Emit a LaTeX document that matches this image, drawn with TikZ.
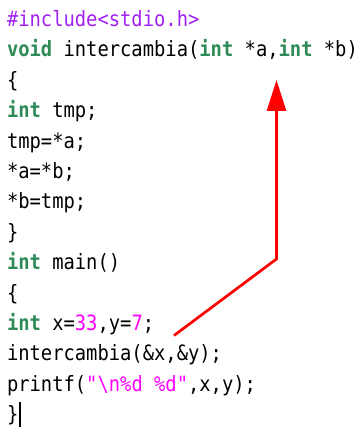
\documentclass[tikz,border=0pt]{standalone}
\usepackage{fontspec}
\setmonofont{DejaVu Sans Mono}
\usetikzlibrary{arrows.meta}
\definecolor{kwgreen}{RGB}{46,139,87}
\definecolor{ppurple}{RGB}{160,32,240}
\definecolor{nmag}{RGB}{255,0,255}
\definecolor{arrred}{RGB}{255,0,0}
\newcommand\kwd[1]{\textcolor{kwgreen}{\bfseries #1}}
\newcommand\lit[1]{\textcolor{nmag}{#1}}
\newcommand\tallline[1]{\scalebox{1}[1.12]{#1}}
\begin{document}
\begin{tikzpicture}[x=1pt,y=-1pt,
  codeline/.style={anchor=base west, inner sep=0pt, outer sep=0pt,
    font=\ttfamily\fontsize{18.8}{22}\selectfont},
  pointer/.style={draw=arrred, line width=2.7pt, -{Triangle[length=31pt,width=19pt]}},
  cursor/.style={draw=black, line width=1.1pt}]
\useasboundingbox (0,0) rectangle (362,427);
\node[codeline] (l1) at (7,26.5) {\tallline{\textcolor{ppurple}{\#include<stdio.h>}}};
\node[codeline] (l2) at (7,56.9) {\tallline{\kwd{void} intercambia(\kwd{int} *a,\kwd{int} *b)}};
\node[codeline] (l3) at (7,87.3) {\tallline{\{}};
\node[codeline] (l4) at (7,117.7) {\tallline{\kwd{int} tmp;}};
\node[codeline] (l5) at (7,148.1) {\tallline{tmp=*a;}};
\node[codeline] (l6) at (7,178.5) {\tallline{*a=*b;}};
\node[codeline] (l7) at (7,208.9) {\tallline{*b=tmp;}};
\node[codeline] (l8) at (7,239.3) {\tallline{\}}};
\node[codeline] (l9) at (7,269.7) {\tallline{\kwd{int} main()}};
\node[codeline] (l10) at (7,300.1) {\tallline{\{}};
\node[codeline] (l11) at (7,330.5) {\tallline{\kwd{int} x=\lit{33},y=\lit{7};}};
\node[codeline] (l12) at (7,360.9) {\tallline{intercambia(\&x,\&y);}};
\node[codeline] (l13) at (7,391.3) {\tallline{printf(\lit{"\textbackslash n\%d \%d"},x,y);}};
\node[codeline] (l14) at (7,421.7) {\tallline{\}}};
\draw[cursor] (20,402) -- (20,427);
\coordinate (s) at (174,335.5);
\coordinate (c) at (276.5,259);
\coordinate (t) at (276.5,80);
\draw[pointer] (s) -- (c) -- (t);
\end{tikzpicture}
\end{document}
